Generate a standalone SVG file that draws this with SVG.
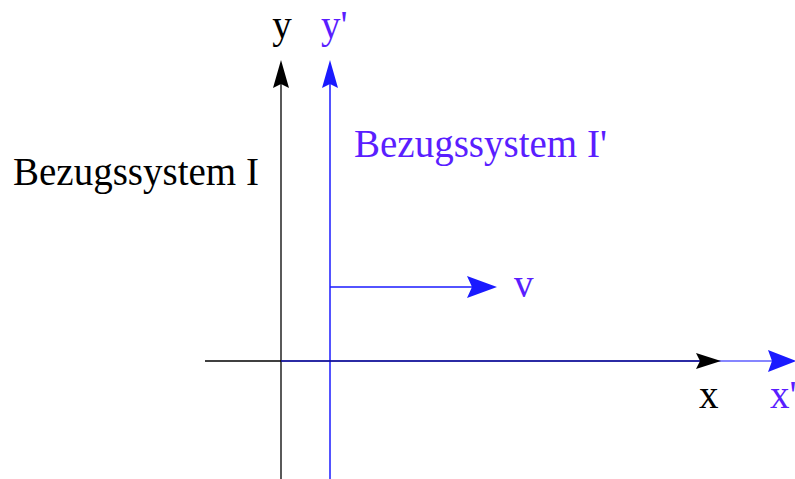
<svg xmlns="http://www.w3.org/2000/svg" width="795" height="479" viewBox="0 0 795 479">
<style>
.t{font-family:"Liberation Serif","Times New Roman",serif;font-size:39px}
.k{fill:#000}
.b{fill:#5a1eff}
.lk{stroke:#000;stroke-width:1.3;fill:none}
.lb{stroke:#1a1aff;stroke-width:1.5;fill:none}
.hk{fill:#000}
.hb{fill:#1a1aff}
</style>
<rect width="795" height="479" fill="#fff"/>
<g id="connectors">
<line class="lk" x1="281" y1="479" x2="281" y2="84"/>
<path class="hk" d="M281,60 L289,88 L281,84 L273,88 Z"/>
<line class="lb" x1="330" y1="479" x2="330" y2="84"/>
<path class="hb" d="M330,60 L338,88 L330,84 L322,88 Z"/>
<line class="lk" x1="205" y1="361" x2="700" y2="361"/>
<line class="lb" x1="281" y1="361" x2="772" y2="361" opacity="0.7"/>
<path class="hk" d="M721,361 L696,353 L700,361 L696,369 Z"/>
<path class="hb" d="M796,361 L768,350 L772,361 L768,372 Z"/>
<line class="lb" x1="330" y1="287" x2="472" y2="287" stroke-width="2"/>
<path class="hb" d="M497,287 L467,276 L472,287 L467,298 Z"/>
</g>
<g id="label-y"><text class="t k" x="282" y="38" text-anchor="middle">y</text></g>
<g id="label-y2"><text class="t b" x="321" y="38">y'</text></g>
<g id="label-I"><text class="t k" x="13" y="185">Bezugssystem I</text></g>
<g id="label-I2"><text class="t b" x="354" y="157">Bezugssystem I'</text></g>
<g id="label-v"><text class="t b" x="514" y="297">v</text></g>
<g id="label-x"><text class="t k" x="699" y="408">x</text></g>
<g id="label-x2"><text class="t b" x="770" y="408">x'</text></g>
</svg>
